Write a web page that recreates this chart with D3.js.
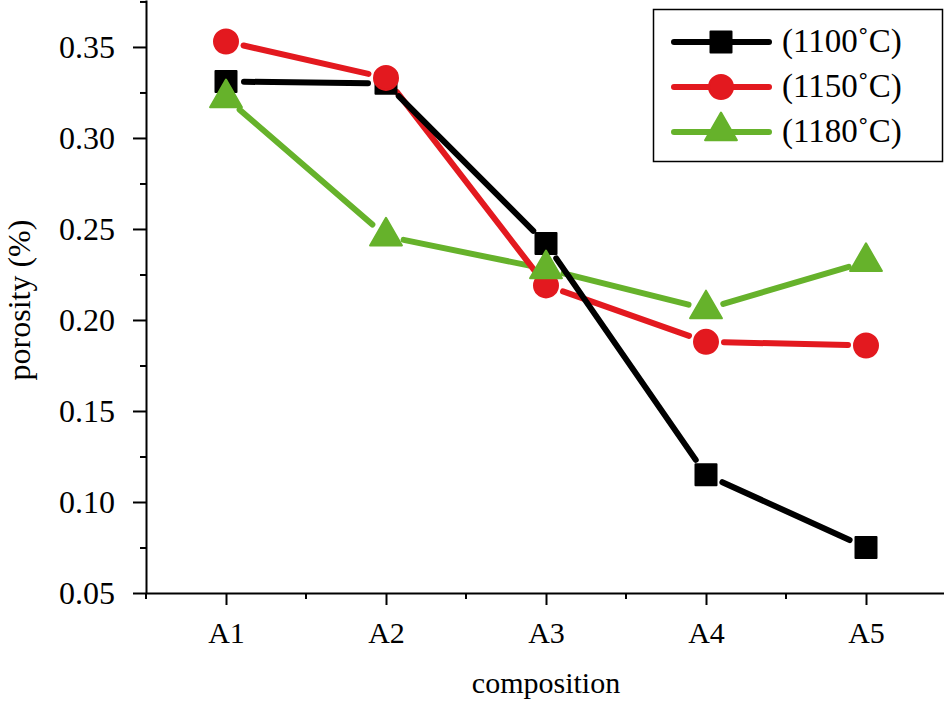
<!DOCTYPE html>
<html>
<head>
<meta charset="utf-8">
<script src="https://cdn.jsdelivr.net/npm/d3@7"></script>
<style>
  html, body { margin: 0; padding: 0; background: #fff; }
  svg { display: block; }
  text { font-family: "Liberation Serif", "Times New Roman", serif; fill: #000; }
</style>
</head>
<body>
<svg id="chart" width="944" height="705"></svg>
<script>
// ---- data ----
const categories = ["A1", "A2", "A3", "A4", "A5"];
const seriesNames = ["(1100\u02DAC)", "(1150\u02DAC)", "(1180\u02DAC)"];
const values1100 = [0.331, 0.330, 0.242, 0.115, 0.075];
const values1150 = [0.353, 0.333, 0.219, 0.188, 0.186];
const values1180 = [0.322, 0.246, 0.228, 0.206, 0.232];
const yTickValues = [0.05, 0.10, 0.15, 0.20, 0.25, 0.30, 0.35];
const yMinorValues = [0.075, 0.125, 0.175, 0.225, 0.275, 0.325, 0.375];
const yDomain = [0.05, 0.3758];
const xTitle = "composition";
const yTitle = "porosity (%)";

// ---- styles ----
const colors = ["#000000", "#e3191f", "#66b22b"];
const shapes = [d3.symbolSquare, d3.symbolCircle, d3.symbolTriangle];
const sizes = [21 * 21, Math.PI * 12 * 12, 440];
const series = [
  { name: seriesNames[0], values: values1100 },
  { name: seriesNames[1], values: values1150 },
  { name: seriesNames[2], values: values1180 }
];

const svg = d3.select("#chart");
const plot = { left: 146, right: 946, top: 0, bottom: 593 };

const x = d3.scalePoint().domain(categories).range([plot.left, plot.right]).padding(0.5);
const y = d3.scaleLinear().domain(yDomain).range([plot.bottom, plot.top]);
const step = x.step();

// ---- axes ----
// minor y ticks
svg.append("g").attr("transform", `translate(${plot.left},0)`)
  .call(d3.axisLeft(y).tickValues(yMinorValues).tickSize(6).tickFormat(""))
  .call(g => g.select(".domain").remove())
  .call(g => g.selectAll("line").attr("stroke", "#000").attr("stroke-width", 2));
// major y
const gy = svg.append("g").attr("transform", `translate(${plot.left},0)`)
  .call(d3.axisLeft(y).tickValues(yTickValues).tickSize(13).tickSizeOuter(0).tickPadding(18)
        .tickFormat(d3.format(".2f")));
gy.select(".domain").attr("stroke", "#000").attr("stroke-width", 2);
gy.selectAll(".tick line").attr("stroke", "#000").attr("stroke-width", 2);
gy.selectAll(".tick text").attr("font-size", 32).attr("font-family", "Liberation Serif").attr("dy", "0.33em");

// minor x ticks
const xMinor = categories.map(c => x(c) - step / 2);
svg.append("g").selectAll("line").data(xMinor).join("line")
  .attr("x1", d => d).attr("x2", d => d)
  .attr("y1", plot.bottom).attr("y2", plot.bottom + 6)
  .attr("stroke", "#000").attr("stroke-width", 2);
// major x
const gx = svg.append("g").attr("transform", `translate(0,${plot.bottom})`)
  .call(d3.axisBottom(x).tickSize(12).tickSizeOuter(0).tickPadding(17));
gx.select(".domain").attr("stroke", "#000").attr("stroke-width", 2);
gx.selectAll(".tick line").attr("stroke", "#000").attr("stroke-width", 2);
gx.selectAll(".tick text").attr("font-size", 30).attr("font-family", "Liberation Serif");

// titles
svg.append("text").attr("x", x(categories[2])).attr("y", 693)
  .attr("text-anchor", "middle").attr("font-size", 30).text(xTitle);
svg.append("text").attr("transform", "translate(30,300) rotate(-90)")
  .attr("text-anchor", "middle").attr("font-size", 32).text(yTitle);

// ---- series ----
const gap = 18;
const lineOrder = [2, 1, 0];   // black line drawn on top of the others
const markerOrder = [0, 1, 2]; // green markers on top
const pointsOf = s => s.values.map((v, i) => [x(categories[i]), y(v)]);

lineOrder.forEach(si => {
  const pts = pointsOf(series[si]);
  const segs = [];
  for (let i = 0; i < pts.length - 1; i++) {
    const [x0, y0] = pts[i], [x1, y1] = pts[i + 1];
    const dx = x1 - x0, dy = y1 - y0, len = Math.hypot(dx, dy);
    const ux = dx / len, uy = dy / len;
    segs.push([x0 + ux * gap, y0 + uy * gap, x1 - ux * gap, y1 - uy * gap]);
  }
  svg.append("g").selectAll("line").data(segs).join("line")
    .attr("x1", d => d[0]).attr("y1", d => d[1]).attr("x2", d => d[2]).attr("y2", d => d[3])
    .attr("stroke", colors[si]).attr("stroke-width", 6)
    .attr("stroke-linecap", "round");
});
markerOrder.forEach(si => {
  const pts = pointsOf(series[si]);
  svg.append("g").selectAll("path").data(pts).join("path")
    .attr("transform", d => `translate(${d[0]},${d[1]})`)
    .attr("d", d3.symbol().type(shapes[si]).size(sizes[si]))
    .attr("fill", colors[si]).attr("stroke", colors[si])
    .attr("stroke-width", 2).attr("stroke-linejoin", "round");
});

// ---- legend ----
const lg = svg.append("g");
lg.append("rect").attr("x", 653.5).attr("y", 9.5).attr("width", 289).attr("height", 152)
  .attr("fill", "#fff").attr("stroke", "#000").attr("stroke-width", 1.5);
const rowY = [42, 87, 132];
series.forEach((s, si) => {
  const ry = rowY[si];
  lg.append("line").attr("x1", 674).attr("x2", 769).attr("y1", ry).attr("y2", ry)
    .attr("stroke", colors[si]).attr("stroke-width", 6).attr("stroke-linecap", "round");
  lg.append("path").attr("transform", `translate(721,${si === 2 ? ry - 1 : ry})`)
    .attr("d", d3.symbol().type(shapes[si]).size(sizes[si]))
    .attr("fill", colors[si]).attr("stroke", colors[si])
    .attr("stroke-width", 2).attr("stroke-linejoin", "round");
  lg.append("text").attr("x", 782).attr("y", ry + 10).attr("font-size", 33).text(s.name);
});
</script>
</body>
</html>
